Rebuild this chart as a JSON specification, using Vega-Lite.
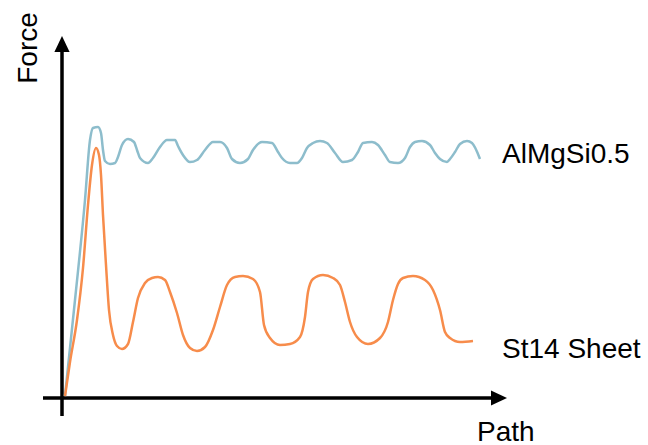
{
  "$schema": "https://vega.github.io/schema/vega-lite/v6.json",
  "width": 648,
  "height": 445,
  "padding": 0,
  "autosize": {"type": "none"},
  "background": "white",
  "config": {"view": {"stroke": null}},
  "datasets": {
    "curves": [
      {"series": "AlMgSi0.5", "path": 2, "force": 2},
      {"series": "AlMgSi0.5", "path": 12, "force": 98},
      {"series": "AlMgSi0.5", "path": 22, "force": 198},
      {"series": "AlMgSi0.5", "path": 27, "force": 258},
      {"series": "AlMgSi0.5", "path": 30, "force": 270},
      {"series": "AlMgSi0.5", "path": 35, "force": 271},
      {"series": "AlMgSi0.5", "path": 38, "force": 265},
      {"series": "AlMgSi0.5", "path": 40, "force": 248},
      {"series": "AlMgSi0.5", "path": 42, "force": 237},
      {"series": "AlMgSi0.5", "path": 47, "force": 234},
      {"series": "AlMgSi0.5", "path": 52, "force": 235},
      {"series": "AlMgSi0.5", "path": 55, "force": 241},
      {"series": "AlMgSi0.5", "path": 59, "force": 253},
      {"series": "AlMgSi0.5", "path": 65, "force": 259},
      {"series": "AlMgSi0.5", "path": 71, "force": 256},
      {"series": "AlMgSi0.5", "path": 74, "force": 248},
      {"series": "AlMgSi0.5", "path": 77, "force": 240},
      {"series": "AlMgSi0.5", "path": 85, "force": 235},
      {"series": "AlMgSi0.5", "path": 90, "force": 240},
      {"series": "AlMgSi0.5", "path": 97, "force": 251},
      {"series": "AlMgSi0.5", "path": 104, "force": 258},
      {"series": "AlMgSi0.5", "path": 112, "force": 258},
      {"series": "AlMgSi0.5", "path": 115, "force": 252},
      {"series": "AlMgSi0.5", "path": 120, "force": 243},
      {"series": "AlMgSi0.5", "path": 127, "force": 236},
      {"series": "AlMgSi0.5", "path": 134, "force": 238},
      {"series": "AlMgSi0.5", "path": 142, "force": 248},
      {"series": "AlMgSi0.5", "path": 150, "force": 256},
      {"series": "AlMgSi0.5", "path": 157, "force": 256},
      {"series": "AlMgSi0.5", "path": 164, "force": 250},
      {"series": "AlMgSi0.5", "path": 169, "force": 239},
      {"series": "AlMgSi0.5", "path": 177, "force": 235},
      {"series": "AlMgSi0.5", "path": 185, "force": 239},
      {"series": "AlMgSi0.5", "path": 190, "force": 248},
      {"series": "AlMgSi0.5", "path": 199, "force": 256},
      {"series": "AlMgSi0.5", "path": 209, "force": 255},
      {"series": "AlMgSi0.5", "path": 215, "force": 246},
      {"series": "AlMgSi0.5", "path": 219, "force": 240},
      {"series": "AlMgSi0.5", "path": 227, "force": 235},
      {"series": "AlMgSi0.5", "path": 234, "force": 235},
      {"series": "AlMgSi0.5", "path": 239, "force": 240},
      {"series": "AlMgSi0.5", "path": 244, "force": 250},
      {"series": "AlMgSi0.5", "path": 250, "force": 255},
      {"series": "AlMgSi0.5", "path": 257, "force": 257},
      {"series": "AlMgSi0.5", "path": 264, "force": 255},
      {"series": "AlMgSi0.5", "path": 272, "force": 245},
      {"series": "AlMgSi0.5", "path": 280, "force": 236},
      {"series": "AlMgSi0.5", "path": 289, "force": 238},
      {"series": "AlMgSi0.5", "path": 295, "force": 246},
      {"series": "AlMgSi0.5", "path": 300, "force": 255},
      {"series": "AlMgSi0.5", "path": 309, "force": 256},
      {"series": "AlMgSi0.5", "path": 315, "force": 253},
      {"series": "AlMgSi0.5", "path": 322, "force": 243},
      {"series": "AlMgSi0.5", "path": 327, "force": 236},
      {"series": "AlMgSi0.5", "path": 335, "force": 235},
      {"series": "AlMgSi0.5", "path": 342, "force": 240},
      {"series": "AlMgSi0.5", "path": 347, "force": 251},
      {"series": "AlMgSi0.5", "path": 352, "force": 256},
      {"series": "AlMgSi0.5", "path": 359, "force": 257},
      {"series": "AlMgSi0.5", "path": 367, "force": 253},
      {"series": "AlMgSi0.5", "path": 372, "force": 245},
      {"series": "AlMgSi0.5", "path": 377, "force": 239},
      {"series": "AlMgSi0.5", "path": 384, "force": 236},
      {"series": "AlMgSi0.5", "path": 387, "force": 239},
      {"series": "AlMgSi0.5", "path": 392, "force": 246},
      {"series": "AlMgSi0.5", "path": 397, "force": 254},
      {"series": "AlMgSi0.5", "path": 404, "force": 257},
      {"series": "AlMgSi0.5", "path": 409, "force": 255},
      {"series": "AlMgSi0.5", "path": 417, "force": 239},
      {"series": "St14 Sheet", "path": 2, "force": 2},
      {"series": "St14 Sheet", "path": 7, "force": 36},
      {"series": "St14 Sheet", "path": 14, "force": 78},
      {"series": "St14 Sheet", "path": 20, "force": 130},
      {"series": "St14 Sheet", "path": 25, "force": 193},
      {"series": "St14 Sheet", "path": 29, "force": 233},
      {"series": "St14 Sheet", "path": 33, "force": 250},
      {"series": "St14 Sheet", "path": 36, "force": 243},
      {"series": "St14 Sheet", "path": 38, "force": 223},
      {"series": "St14 Sheet", "path": 40, "force": 183},
      {"series": "St14 Sheet", "path": 43, "force": 133},
      {"series": "St14 Sheet", "path": 46, "force": 88},
      {"series": "St14 Sheet", "path": 50, "force": 63},
      {"series": "St14 Sheet", "path": 54, "force": 52},
      {"series": "St14 Sheet", "path": 59, "force": 49},
      {"series": "St14 Sheet", "path": 65, "force": 54},
      {"series": "St14 Sheet", "path": 70, "force": 76},
      {"series": "St14 Sheet", "path": 75, "force": 100},
      {"series": "St14 Sheet", "path": 82, "force": 115},
      {"series": "St14 Sheet", "path": 89, "force": 120},
      {"series": "St14 Sheet", "path": 95, "force": 121},
      {"series": "St14 Sheet", "path": 102, "force": 118},
      {"series": "St14 Sheet", "path": 107, "force": 106},
      {"series": "St14 Sheet", "path": 114, "force": 85},
      {"series": "St14 Sheet", "path": 120, "force": 63},
      {"series": "St14 Sheet", "path": 127, "force": 50},
      {"series": "St14 Sheet", "path": 134, "force": 47},
      {"series": "St14 Sheet", "path": 142, "force": 51},
      {"series": "St14 Sheet", "path": 150, "force": 68},
      {"series": "St14 Sheet", "path": 157, "force": 91},
      {"series": "St14 Sheet", "path": 164, "force": 113},
      {"series": "St14 Sheet", "path": 172, "force": 121},
      {"series": "St14 Sheet", "path": 180, "force": 122},
      {"series": "St14 Sheet", "path": 190, "force": 119},
      {"series": "St14 Sheet", "path": 197, "force": 106},
      {"series": "St14 Sheet", "path": 201, "force": 73},
      {"series": "St14 Sheet", "path": 207, "force": 60},
      {"series": "St14 Sheet", "path": 217, "force": 53},
      {"series": "St14 Sheet", "path": 227, "force": 54},
      {"series": "St14 Sheet", "path": 237, "force": 61},
      {"series": "St14 Sheet", "path": 242, "force": 81},
      {"series": "St14 Sheet", "path": 245, "force": 106},
      {"series": "St14 Sheet", "path": 250, "force": 119},
      {"series": "St14 Sheet", "path": 260, "force": 123},
      {"series": "St14 Sheet", "path": 270, "force": 120},
      {"series": "St14 Sheet", "path": 277, "force": 113},
      {"series": "St14 Sheet", "path": 282, "force": 96},
      {"series": "St14 Sheet", "path": 287, "force": 76},
      {"series": "St14 Sheet", "path": 294, "force": 61},
      {"series": "St14 Sheet", "path": 305, "force": 54},
      {"series": "St14 Sheet", "path": 317, "force": 60},
      {"series": "St14 Sheet", "path": 325, "force": 76},
      {"series": "St14 Sheet", "path": 330, "force": 98},
      {"series": "St14 Sheet", "path": 335, "force": 114},
      {"series": "St14 Sheet", "path": 340, "force": 120},
      {"series": "St14 Sheet", "path": 350, "force": 122},
      {"series": "St14 Sheet", "path": 362, "force": 118},
      {"series": "St14 Sheet", "path": 370, "force": 108},
      {"series": "St14 Sheet", "path": 377, "force": 88},
      {"series": "St14 Sheet", "path": 382, "force": 66},
      {"series": "St14 Sheet", "path": 387, "force": 60},
      {"series": "St14 Sheet", "path": 397, "force": 56},
      {"series": "St14 Sheet", "path": 410, "force": 57}
    ],
    "axes": [
      {"axis": "Force", "x": -1, "y": -18, "x2": -1, "y2": 350},
      {"axis": "Path", "x": -20, "y": 0, "x2": 432, "y2": 0}
    ],
    "arrows": [
      {"axis": "Force", "x": -1, "y": 354},
      {"axis": "Path", "x": 436, "y": 0}
    ],
    "labels": [
      {"label": "AlMgSi0.5", "x": 439, "y": 235},
      {"label": "St14 Sheet", "x": 439, "y": 40},
      {"label": "Path", "x": 414, "y": -43}
    ],
    "ylabel": [
      {"label": "Force", "x": -26, "y": 350}
    ]
  },
  "layer": [
    {
      "data": {"name": "axes"},
      "mark": {"type": "rule", "color": "black", "strokeWidth": 3.5},
      "encoding": {
        "x": {"field": "x", "type": "quantitative", "scale": {"domain": [-63, 585], "nice": false, "zero": false}, "axis": null},
        "y": {"field": "y", "type": "quantitative", "scale": {"domain": [-47, 398], "nice": false, "zero": false}, "axis": null},
        "x2": {"field": "x2"},
        "y2": {"field": "y2"}
      }
    },
    {
      "data": {"name": "arrows"},
      "transform": [{"filter": "datum.axis === 'Force'"}],
      "mark": {"type": "point", "filled": true, "color": "black", "opacity": 1, "size": 256, "shape": "M0,-1L-0.95,1L0.95,1Z"},
      "encoding": {
        "x": {"field": "x", "type": "quantitative"},
        "y": {"field": "y", "type": "quantitative"}
      }
    },
    {
      "data": {"name": "arrows"},
      "transform": [{"filter": "datum.axis === 'Path'"}],
      "mark": {"type": "point", "filled": true, "color": "black", "opacity": 1, "size": 256, "shape": "M1,0L-1,-0.95L-1,0.95Z"},
      "encoding": {
        "x": {"field": "x", "type": "quantitative"},
        "y": {"field": "y", "type": "quantitative"}
      }
    },
    {
      "data": {"name": "curves"},
      "mark": {"type": "line", "interpolate": "monotone", "strokeWidth": 2.5},
      "encoding": {
        "x": {"field": "path", "type": "quantitative"},
        "y": {"field": "force", "type": "quantitative"},
        "color": {"field": "series", "type": "nominal", "scale": {"domain": ["AlMgSi0.5", "St14 Sheet"], "range": ["#8dbdcc", "#f78c4b"]}, "legend": null},
        "order": {"field": "path", "type": "quantitative"}
      }
    },
    {
      "data": {"name": "labels"},
      "mark": {"type": "text", "align": "left", "baseline": "alphabetic", "font": "Liberation Sans", "fontSize": 28, "color": "black"},
      "encoding": {
        "x": {"field": "x", "type": "quantitative"},
        "y": {"field": "y", "type": "quantitative"},
        "text": {"field": "label"}
      }
    },
    {
      "data": {"name": "ylabel"},
      "mark": {"type": "text", "align": "center", "baseline": "alphabetic", "angle": 270, "font": "Liberation Sans", "fontSize": 28, "color": "black"},
      "encoding": {
        "x": {"field": "x", "type": "quantitative"},
        "y": {"field": "y", "type": "quantitative"},
        "text": {"field": "label"}
      }
    }
  ]
}
